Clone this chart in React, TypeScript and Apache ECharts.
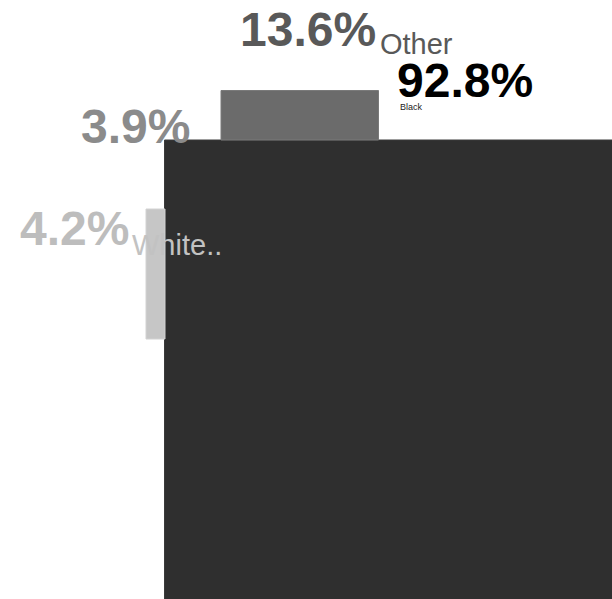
import React, { useEffect, useRef } from "react";
import * as echarts from "echarts";

// ---- data ----
const categories = ["Black", "Other", "White..", ""];
const percents = [92.8, 13.6, 4.2, 3.9];

// ---- layout (in the chart's data units) ----
const boxLeft = [164.5, 221, 146, 166];
const boxTop = [140, 90.5, 209, 141];
const boxRight = [640, 378.5, 165, 178];
const boxBottom = [640, 140, 339, 640];

const valueLabelPos: number[][] = [
  [397, 80],
  [240, 29],
  [20, 228],
  [81, 126],
];
const nameLabelPos: number[][] = [
  [400, 107],
  [380, 44],
  [132, 245],
  [0, 0],
];

// ---- styles ----
const boxFill = ["#2f2f2f", "#6b6b6b", "#c6c6c6", "#313131"];
const boxStroke = ["#3b3b3b", "#7a7a7a", "#d2d2d2", "#313131"];
const valueColor = ["#000000", "#595959", "#bdbdbd", "#8b8b8b"];
const nameColor = ["#222222", "#595959", "#c2c2c2", "#8b8b8b"];
const nameSize = [9, 29, 29, 9];
const FONT = "'Liberation Sans', Arial, Helvetica, sans-serif";

const drawOrder = [3, 0, 1, 2];

export default function App() {
  const ref = useRef<HTMLDivElement>(null);
  useEffect(() => {
    if (!ref.current) return;
    const chart = echarts.init(ref.current, undefined, { renderer: "svg" });

    const boxData = drawOrder.map((i) => [boxLeft[i], boxTop[i], boxRight[i], boxBottom[i], i]);
    const labelData = drawOrder.map((i) => [valueLabelPos[i][0], valueLabelPos[i][1], i]);

    chart.setOption({
      animation: false,
      grid: { left: 0, right: 0, top: 0, bottom: 0 },
      xAxis: { type: "value", min: 0, max: 612, show: false },
      yAxis: { type: "value", min: 0, max: 599, inverse: true, show: false },
      series: [
        {
          type: "custom",
          z: 1,
          silent: true,
          clip: true,
          data: boxData,
          renderItem: (params: any, api: any) => {
            const i = api.value(4);
            const p0 = api.coord([api.value(0), api.value(1)]);
            const p1 = api.coord([api.value(2), api.value(3)]);
            return {
              type: "rect",
              shape: { x: p0[0], y: p0[1], width: p1[0] - p0[0], height: p1[1] - p0[1] },
              style: { fill: boxFill[i], stroke: boxStroke[i], lineWidth: 1 },
            };
          },
        },
        {
          type: "custom",
          z: 5,
          silent: true,
          clip: false,
          data: labelData,
          renderItem: (params: any, api: any) => {
            const i = api.value(2);
            const pv = api.coord([api.value(0), api.value(1)]);
            const children: any[] = [
              {
                type: "text",
                x: pv[0],
                y: pv[1],
                style: {
                  text: percents[i].toFixed(1) + "%",
                  fill: valueColor[i],
                  font: `bold 48px ${FONT}`,
                  align: "left",
                  verticalAlign: "middle",
                },
              },
            ];
            if (categories[i]) {
              const pn = api.coord(nameLabelPos[i]);
              children.push({
                type: "text",
                x: pn[0],
                y: pn[1],
                style: {
                  text: categories[i],
                  fill: nameColor[i],
                  font: `${nameSize[i]}px ${FONT}`,
                  align: "left",
                  verticalAlign: "middle",
                },
              });
            }
            return { type: "group", children };
          },
        },
      ],
    });
    return () => chart.dispose();
  }, []);

  return (
    <div
      ref={ref}
      style={{ position: "fixed", left: 0, top: 0, width: 612, height: 599, background: "#ffffff" }}
    />
  );
}
